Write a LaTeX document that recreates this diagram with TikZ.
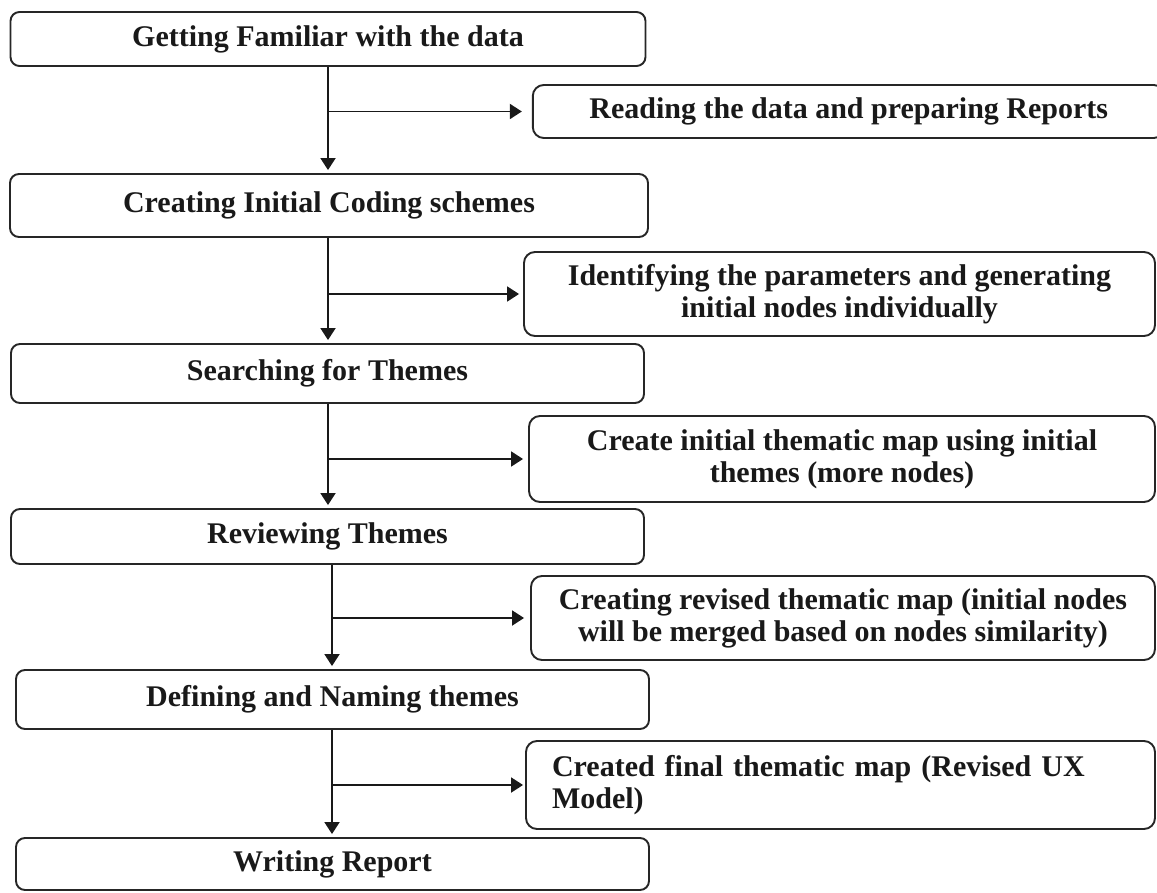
\documentclass[tikz,border=0pt]{standalone}
\usepackage{fontspec}
\setmainfont{Liberation Serif}
\usetikzlibrary{arrows.meta}
\begin{document}
\begin{tikzpicture}[x=1pt,y=-1pt,
  box/.style={draw=black!85, line width=1.9pt, rounded corners=9pt,
    font=\fontsize{30}{32}\selectfont\bfseries, text=black!90, inner sep=0pt, align=center},
  sidebox/.style={box, rounded corners=11pt},
  arr/.style={draw=black!90, line width=1.9pt, -{Triangle[length=12pt,width=15pt]}},
]
\useasboundingbox (0,0) rectangle (1157,893);
% main column
\node[box, minimum width=635pt, minimum height=54pt] (b1) at (328,39) {Getting Familiar with the data};
\node[box, minimum width=638pt, minimum height=63pt] (b2) at (329,205.5) {Creating Initial Coding schemes};
\node[box, minimum width=633pt, minimum height=59pt] (b3) at (327.5,373.5) {Searching for Themes};
\node[box, minimum width=633pt, minimum height=55pt] (b4) at (327.5,536.5) {Reviewing Themes};
\node[box, minimum width=633pt, minimum height=59pt] (b5) at (332.5,699.5) {Defining and Naming themes};
\node[box, minimum width=633pt, minimum height=52pt] (b6) at (332.5,864) {Writing Report};
% side column
\node[sidebox, minimum width=632pt, minimum height=53pt] (r1) at (848.8,111.5) {Reading the data and preparing Reports};
\node[sidebox, minimum width=631pt, minimum height=84pt] (r2) at (839.5,294) {Identifying the parameters and generating\\initial nodes individually};
\node[sidebox, minimum width=626pt, minimum height=86pt] (r3) at (842,459) {Create initial thematic map using initial\\themes (more nodes)};
\node[sidebox, minimum width=624pt, minimum height=84pt] (r4) at (843,618) {Creating revised thematic map (initial nodes\\will be merged based on nodes similarity)};
\node[sidebox, minimum width=629pt, minimum height=88pt, inner xsep=26pt, text width=577pt, align=left] (r5) at (840.5,785) {Created final thematic map (Revised UX\\Model)};
% spine coordinates
\coordinate (ca) at (328,0);
\coordinate (cb) at (332,0);
% vertical arrows
\draw[arr, shorten >=3pt] (b1.south -| ca) -- (b2.north -| ca);
\draw[arr, shorten >=3pt] (b2.south -| ca) -- (b3.north -| ca);
\draw[arr, shorten >=3pt] (b3.south -| ca) -- (b4.north -| ca);
\draw[arr, shorten >=3pt] (b4.south -| cb) -- (b5.north -| cb);
\draw[arr, shorten >=3pt] (b5.south -| cb) -- (b6.north -| cb);
% branch arrows
\draw[arr, shorten >=10pt] (ca |- r1.west) -- (r1.west);
\draw[arr, shorten >=4pt] (ca |- r2.west) -- (r2.west);
\draw[arr, shorten >=5pt] (ca |- r3.west) -- (r3.west);
\draw[arr, shorten >=6pt] (cb |- r4.west) -- (r4.west);
\draw[arr, shorten >=2pt] (cb |- r5.west) -- (r5.west);
\end{tikzpicture}
\end{document}
